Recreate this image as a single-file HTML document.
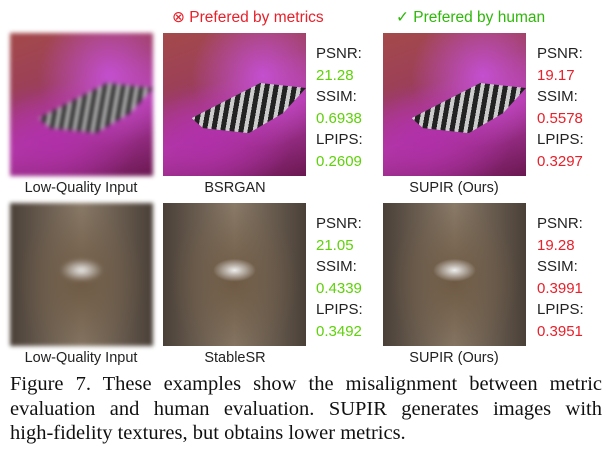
<!DOCTYPE html>
<html><head><meta charset="utf-8"><style>
body{margin:0;width:606px;height:455px;background:#fff;position:relative;overflow:hidden;font-family:"Liberation Sans",sans-serif}
.img{position:absolute;width:143px;height:143px;overflow:hidden}
.lbl{position:absolute;font-size:14.5px;color:#222;text-align:center;width:160px}
.met{position:absolute;font-size:15px;line-height:21.5px;color:#222}
.g{color:#5fd10a}.r{color:#e8202a}
.hdr{position:absolute;top:8px;font-size:15.5px}
.cap{position:absolute;left:10px;top:372px;width:592px;font-family:"Liberation Serif",serif;font-size:20.5px;line-height:24.5px;color:#111;text-align:justify;hyphens:none}
.ln{display:block;text-align:justify;text-align-last:justify;white-space:nowrap}
.bfly{background:radial-gradient(ellipse 60% 40% at 30% 75%,#b030a8,transparent),radial-gradient(ellipse 50% 50% at 70% 30%,#c44fd0,transparent),linear-gradient(160deg,#a44a4a 0%,#9a3e5a 35%,#b43aa8 60%,#6a1850 100%)}
.wing{position:absolute;left:20%;top:35%;width:80%;height:35%;background:repeating-linear-gradient(100deg,#222 0 5px,#ccc 5px 9px);clip-path:polygon(0 70%,60% 0,100% 10%,80% 60%,50% 100%,10% 90%)}
.cat{background:radial-gradient(ellipse 15% 8% at 50% 47%,#eee,transparent),radial-gradient(ellipse 45% 55% at 50% 55%,#6e5a44,transparent),linear-gradient(90deg,#4a4038,#8a7a68 50%,#4a4038)}
</style></head><body>
<div class="hdr r" style="left:172px">⊗ Prefered by metrics</div>
<div class="hdr" style="left:396px;color:#2fb80a">✓ Prefered by human</div>

<div class="img bfly" style="left:10px;top:33px;filter:blur(2px)"><div class="wing"></div></div>
<div class="img bfly" style="left:163px;top:33px"><div class="wing"></div></div>
<div class="img bfly" style="left:383px;top:33px"><div class="wing"></div></div>
<div class="lbl" style="left:1px;top:180px">Low-Quality Input</div>
<div class="lbl" style="left:155px;top:180px">BSRGAN</div>
<div class="lbl" style="left:374px;top:180px">SUPIR (Ours)</div>
<div class="met" style="left:316px;top:43px">PSNR:<br><span class="g">21.28</span><br>SSIM:<br><span class="g">0.6938</span><br>LPIPS:<br><span class="g">0.2609</span></div>
<div class="met" style="left:537px;top:43px">PSNR:<br><span class="r">19.17</span><br>SSIM:<br><span class="r">0.5578</span><br>LPIPS:<br><span class="r">0.3297</span></div>

<div class="img cat" style="left:10px;top:203px;filter:blur(2px)"></div>
<div class="img cat" style="left:163px;top:203px"></div>
<div class="img cat" style="left:383px;top:203px"></div>
<div class="lbl" style="left:1px;top:350px">Low-Quality Input</div>
<div class="lbl" style="left:155px;top:350px">StableSR</div>
<div class="lbl" style="left:374px;top:350px">SUPIR (Ours)</div>
<div class="met" style="left:316px;top:213px">PSNR:<br><span class="g">21.05</span><br>SSIM:<br><span class="g">0.4339</span><br>LPIPS:<br><span class="g">0.3492</span></div>
<div class="met" style="left:537px;top:213px">PSNR:<br><span class="r">19.28</span><br>SSIM:<br><span class="r">0.3991</span><br>LPIPS:<br><span class="r">0.3951</span></div>

<div class="cap"><span class="ln">Figure 7. These examples show the misalignment between metric</span><span class="ln">evaluation and human evaluation. SUPIR generates images with</span><span style="display:block">high-fidelity textures, but obtains lower metrics.</span></div>
</body></html>
